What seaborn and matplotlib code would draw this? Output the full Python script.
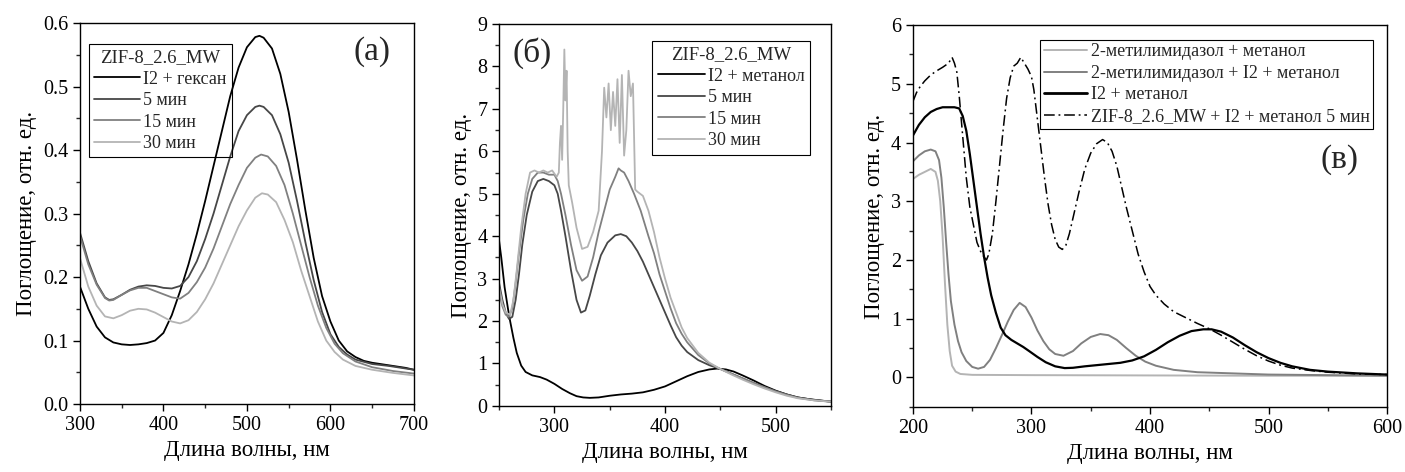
import numpy as np
import pandas as pd
import matplotlib
matplotlib.use("Agg")
import matplotlib.pyplot as plt
from matplotlib.ticker import MultipleLocator, FormatStrFormatter
import seaborn as sns

# ---------------- Panel (а) ----------------
a_title = "ZIF-8_2.6_MW"
a_labels = ["I2 + гексан", "5 мин", "15 мин", "30 мин"]
a_x0 = [300, 310, 320, 330, 340, 350, 360, 370, 380, 390, 400, 410, 420, 430, 440, 450, 460, 470, 480, 490, 500, 510, 515, 520, 530, 540, 550, 560, 570, 580, 590, 600, 610, 620, 630, 640, 650, 670, 690, 700]
a_y0 = [0.185, 0.15, 0.122, 0.105, 0.097, 0.094, 0.093, 0.094, 0.096, 0.10, 0.112, 0.14, 0.178, 0.22, 0.268, 0.32, 0.375, 0.43, 0.485, 0.53, 0.562, 0.578, 0.58, 0.577, 0.56, 0.52, 0.46, 0.385, 0.305, 0.23, 0.17, 0.13, 0.10, 0.083, 0.074, 0.068, 0.065, 0.061, 0.057, 0.054]
a_x1 = [300, 310, 320, 330, 335, 340, 350, 360, 370, 380, 390, 400, 410, 420, 430, 440, 450, 460, 470, 480, 490, 500, 510, 515, 520, 530, 540, 550, 560, 570, 580, 590, 600, 610, 620, 630, 650, 670, 700]
a_y1 = [0.27, 0.225, 0.19, 0.168, 0.164, 0.165, 0.172, 0.18, 0.185, 0.187, 0.186, 0.183, 0.182, 0.186, 0.20, 0.225, 0.26, 0.30, 0.345, 0.39, 0.43, 0.455, 0.468, 0.47, 0.468, 0.455, 0.425, 0.38, 0.32, 0.255, 0.195, 0.145, 0.11, 0.09, 0.078, 0.07, 0.063, 0.06, 0.054]
a_x2 = [300, 310, 320, 330, 335, 340, 350, 360, 370, 380, 390, 400, 410, 420, 430, 440, 450, 460, 470, 480, 490, 500, 510, 517, 525, 535, 545, 555, 565, 575, 585, 595, 605, 615, 630, 650, 675, 700]
a_y2 = [0.265, 0.22, 0.188, 0.167, 0.163, 0.164, 0.172, 0.179, 0.183, 0.183, 0.178, 0.173, 0.168, 0.166, 0.175, 0.192, 0.215, 0.245, 0.28, 0.315, 0.345, 0.372, 0.388, 0.393, 0.39, 0.375, 0.345, 0.30, 0.25, 0.20, 0.155, 0.12, 0.095, 0.08, 0.067, 0.058, 0.052, 0.048]
a_x3 = [300, 310, 320, 330, 340, 350, 360, 370, 380, 390, 400, 410, 420, 430, 440, 450, 460, 470, 480, 490, 500, 510, 518, 525, 535, 545, 555, 565, 575, 585, 595, 605, 615, 630, 650, 675, 700]
a_y3 = [0.23, 0.185, 0.155, 0.138, 0.135, 0.14, 0.147, 0.15, 0.149, 0.144, 0.137, 0.13, 0.127, 0.132, 0.145, 0.165, 0.19, 0.22, 0.25, 0.28, 0.305, 0.325, 0.332, 0.33, 0.318, 0.29, 0.255, 0.21, 0.17, 0.13, 0.10, 0.082, 0.07, 0.06, 0.054, 0.049, 0.045]

# ---------------- Panel (б) ----------------
b_title = "ZIF-8_2.6_MW"
b_labels = ["I2 + метанол", "5 мин", "15 мин", "30 мин"]
b_x0 = [250, 252, 255, 258, 260, 263, 266, 270, 274, 280, 287, 293, 300, 307, 314, 320, 326, 332, 340, 350, 360, 370, 380, 390, 400, 410, 420, 430, 440, 447, 455, 462, 470, 480, 490, 500, 510, 520, 530, 540, 550]
b_y0 = [3.9, 3.5, 2.8, 2.3, 2.0, 1.6, 1.25, 0.95, 0.8, 0.72, 0.68, 0.62, 0.52, 0.40, 0.30, 0.23, 0.20, 0.19, 0.20, 0.24, 0.27, 0.29, 0.32, 0.38, 0.46, 0.58, 0.70, 0.80, 0.86, 0.88, 0.86, 0.81, 0.72, 0.60, 0.47, 0.36, 0.27, 0.20, 0.16, 0.13, 0.10]
b_x1 = [250, 253, 256, 259, 262, 265, 268, 271, 275, 280, 285, 290, 295, 300, 303, 306, 310, 315, 320, 324, 328, 332, 337, 342, 348, 355, 360, 365, 370, 375, 380, 385, 390, 395, 400, 405, 410, 415, 420, 430, 440, 450, 460, 470, 480, 490, 500, 510, 520, 535, 550]
b_y1 = [2.9, 2.5, 2.2, 2.05, 2.1, 2.5, 3.1, 3.8, 4.5, 5.05, 5.3, 5.35, 5.3, 5.2, 5.0, 4.6, 4.0, 3.2, 2.5, 2.2, 2.25, 2.6, 3.1, 3.55, 3.85, 4.02, 4.05, 4.0, 3.85, 3.65, 3.4, 3.1, 2.8, 2.5, 2.2, 1.9, 1.62, 1.42, 1.27, 1.08, 0.96, 0.87, 0.76, 0.65, 0.54, 0.44, 0.35, 0.27, 0.20, 0.14, 0.10]
b_x2 = [250, 253, 256, 259, 262, 265, 268, 272, 276, 280, 285, 290, 295, 300, 303, 306, 310, 315, 320, 325, 330, 335, 340, 345, 350, 355, 358, 360, 363, 367, 372, 378, 385, 390, 395, 400, 405, 410, 415, 420, 430, 440, 450, 460, 470, 480, 490, 500, 510, 520, 535, 550]
b_y2 = [2.7, 2.35, 2.15, 2.1, 2.3, 2.9, 3.6, 4.4, 5.0, 5.35, 5.5, 5.5, 5.45, 5.45, 5.3, 5.0, 4.5, 3.8, 3.2, 2.95, 3.05, 3.5, 4.1, 4.6, 5.1, 5.4, 5.6, 5.55, 5.5, 5.3, 5.0, 4.6, 4.0, 3.6, 3.1, 2.7, 2.3, 1.95, 1.7, 1.5, 1.2, 1.0, 0.87, 0.76, 0.65, 0.54, 0.44, 0.34, 0.26, 0.19, 0.13, 0.10]
b_x3 = [250, 253, 256, 260, 263, 266, 270, 274, 278, 282, 286, 290, 294, 298, 302, 304, 305, 306, 307, 308, 309, 310, 311, 312, 313, 316, 320, 325, 330, 335, 340, 343, 345, 347, 349, 351, 353, 355, 357, 359, 361, 363, 365, 367, 369, 371, 373, 375, 380, 385, 390, 395, 400, 405, 410, 415, 420, 430, 440, 450, 460, 470, 480, 490, 500, 510, 520, 535, 550]
b_y3 = [2.8, 2.4, 2.2, 2.15, 2.5, 3.2, 4.2, 5.0, 5.5, 5.55, 5.5, 5.55, 5.5, 5.55, 5.4, 5.5, 6.2, 6.6, 5.8, 7.0, 8.4, 7.2, 7.9, 6.0, 5.2, 4.8, 4.2, 3.7, 3.75, 4.1, 4.6, 6.0, 7.5, 6.8, 7.6, 6.5, 7.4, 6.6, 7.7, 6.2, 7.8, 5.9, 6.5, 7.9, 7.3, 7.6, 5.1, 5.05, 4.95, 4.6, 4.1, 3.5, 3.0, 2.55, 2.2, 1.85, 1.6, 1.25, 1.02, 0.87, 0.74, 0.62, 0.51, 0.41, 0.32, 0.24, 0.18, 0.13, 0.10]

# ---------------- Panel (в) ----------------
c_labels = ["2-метилимидазол + метанол", "2-метилимидазол + I2 + метанол",
            "I2 + метанол", "ZIF-8_2.6_MW + I2 + метанол 5 мин"]
c_x0 = [200, 205, 210, 215, 219, 221, 223, 225, 227, 229, 231, 233, 236, 240, 250, 300, 400, 500, 600]
c_y0 = [3.38, 3.45, 3.5, 3.55, 3.5, 3.35, 3.0, 2.4, 1.6, 0.9, 0.45, 0.2, 0.1, 0.06, 0.045, 0.04, 0.035, 0.03, 0.03]
c_x1 = [200, 205, 210, 215, 219, 222, 224, 226, 228, 230, 232, 235, 238, 241, 245, 250, 255, 260, 265, 270, 275, 280, 285, 290, 295, 300, 305, 310, 315, 320, 327, 335, 342, 350, 358, 365, 372, 380, 388, 396, 405, 420, 440, 470, 500, 550, 600]
c_y1 = [3.68, 3.78, 3.85, 3.88, 3.85, 3.7, 3.4, 2.9, 2.3, 1.75, 1.3, 0.9, 0.62, 0.43, 0.28, 0.18, 0.15, 0.18, 0.3, 0.5, 0.72, 0.95, 1.15, 1.27, 1.2, 1.02, 0.8, 0.62, 0.48, 0.4, 0.37, 0.45, 0.58, 0.69, 0.74, 0.72, 0.64, 0.5, 0.37, 0.27, 0.2, 0.13, 0.09, 0.07, 0.05, 0.04, 0.03]
c_x2 = [200, 205, 210, 215, 220, 225, 230, 235, 239, 242, 245, 248, 251, 254, 257, 260, 263, 266, 270, 274, 278, 283, 288, 293, 298, 305, 312, 320, 328, 335, 345, 355, 365, 375, 385, 395, 405, 415, 425, 435, 445, 452, 460, 470, 480, 490, 500, 510, 520, 535, 550, 575, 600]
c_y2 = [4.12, 4.3, 4.43, 4.52, 4.57, 4.6, 4.6, 4.6, 4.58, 4.45, 4.2, 3.8, 3.35, 2.9, 2.45, 2.05, 1.7, 1.4, 1.1, 0.85, 0.72, 0.64, 0.58, 0.52, 0.45, 0.35, 0.26, 0.19, 0.16, 0.165, 0.19, 0.21, 0.23, 0.25, 0.29, 0.36, 0.47, 0.6, 0.71, 0.79, 0.82, 0.82, 0.78, 0.68, 0.55, 0.43, 0.33, 0.25, 0.19, 0.13, 0.1, 0.07, 0.05]
c_x3 = [200, 203, 206, 210, 215, 220, 225, 230, 233, 235, 237, 239, 242, 245, 248, 251, 254, 257, 260, 262, 264, 267, 270, 273, 276, 279, 282, 285, 288, 291, 294, 297, 300, 302, 305, 308, 311, 314, 317, 320, 323, 326, 329, 332, 336, 340, 345, 350, 355, 360, 364, 368, 372, 376, 380, 385, 390, 395, 400, 405, 412, 420, 430, 440, 450, 460, 470, 480, 490, 500, 510, 520, 535, 550, 575, 600]
c_y3 = [4.7, 4.85, 4.95, 5.05, 5.15, 5.22, 5.28, 5.35, 5.45, 5.35, 5.2, 4.8, 4.1, 3.4, 2.9, 2.6, 2.3, 2.15, 2.05, 2.0, 2.1, 2.45, 3.0, 3.6, 4.2, 4.75, 5.1, 5.3, 5.35, 5.45, 5.35, 5.25, 5.12, 4.9, 4.4, 3.9, 3.4, 2.95, 2.6, 2.35, 2.22, 2.18, 2.25, 2.45, 2.8, 3.15, 3.55, 3.82, 3.98, 4.05, 4.0, 3.85, 3.6, 3.25, 2.9, 2.5, 2.1, 1.8, 1.55, 1.4, 1.25, 1.12, 1.02, 0.92, 0.83, 0.72, 0.6, 0.48, 0.37, 0.28, 0.21, 0.16, 0.12, 0.09, 0.06, 0.05]

GRAYS = ["#000000", "#474747", "#808080", "#b4b4b4"]
DASHDOT = (0, (7, 2.5, 1.2, 2.5))

sns.set_theme(style="ticks")
plt.rcParams['font.family'] = ['Liberation Serif', 'DejaVu Serif']


def frame(parts):
    rows = []
    for lab, xs, ys in parts:
        rows.append(pd.DataFrame({"x": xs, "y": ys, "s": lab}))
    return pd.concat(rows, ignore_index=True)


fig = plt.figure(figsize=(14.05, 4.72), dpi=100)
axa = fig.add_axes([0.0569, 0.144, 0.2377, 0.807])
axb = fig.add_axes([0.3552, 0.140, 0.2363, 0.809])
axc = fig.add_axes([0.6498, 0.138, 0.3374, 0.809])


def style_axis(ax):
    for s in ax.spines.values():
        s.set_color("black")
        s.set_linewidth(1.0)
    ax.tick_params(axis="both", which="major", direction="out", length=5, width=1,
                   labelsize=14.5, colors="black", top=False, right=False)
    ax.tick_params(axis="both", which="minor", direction="out", length=3, width=1,
                   top=False, right=False)
    ax.set_xlabel("Длина волны, нм", fontsize=16.5, color="black")
    ax.set_ylabel("Поглощение, отн. ед.", fontsize=16.5, color="black")


# Panel a
dfa = frame(zip(a_labels, [a_x0, a_x1, a_x2, a_x3], [a_y0, a_y1, a_y2, a_y3]))
sns.lineplot(data=dfa, x="x", y="y", hue="s", palette=GRAYS, estimator=None,
             sort=False, ax=axa, linewidth=1.3)
axa.set_xlim(300, 700)
axa.set_ylim(0, 0.6)
axa.xaxis.set_major_locator(MultipleLocator(100))
axa.xaxis.set_minor_locator(MultipleLocator(50))
axa.yaxis.set_major_locator(MultipleLocator(0.1))
axa.yaxis.set_minor_locator(MultipleLocator(0.05))
axa.yaxis.set_major_formatter(FormatStrFormatter("%.1f"))
style_axis(axa)
lg = axa.legend(title=a_title, loc="upper left", fontsize=13, title_fontsize=13.5,
                frameon=True, fancybox=False, edgecolor="black",
                borderpad=0.3, labelspacing=0.25, handlelength=2.5, handletextpad=0.2,
                bbox_to_anchor=(0.0, 0.97))
lg.get_frame().set_linewidth(0.8)
lg.get_frame().set_facecolor("none")
lg.get_frame().set_alpha(None)
axa.text(0.93, 0.925, "(а)", transform=axa.transAxes, fontsize=24, ha="right", va="center")

# Panel b
dfb = frame(zip(b_labels, [b_x0, b_x1, b_x2, b_x3], [b_y0, b_y1, b_y2, b_y3]))
sns.lineplot(data=dfb, x="x", y="y", hue="s", palette=GRAYS, estimator=None,
             sort=False, ax=axb, linewidth=1.3)
axb.set_xlim(250, 550)
axb.set_ylim(0, 9)
axb.xaxis.set_major_locator(MultipleLocator(100))
axb.xaxis.set_minor_locator(MultipleLocator(50))
axb.yaxis.set_major_locator(MultipleLocator(1))
axb.yaxis.set_minor_locator(MultipleLocator(0.5))
style_axis(axb)
lg = axb.legend(title=b_title, loc="upper right", fontsize=13, title_fontsize=13.5,
                frameon=True, fancybox=False, edgecolor="black", framealpha=1.0,
                borderpad=0.3, labelspacing=0.25, handlelength=2.6, handletextpad=0.2,
                bbox_to_anchor=(0.965, 0.98))
lg.get_frame().set_linewidth(0.8)
axb.text(0.04, 0.925, "(б)", transform=axb.transAxes, fontsize=24, ha="left", va="center")

# Panel c
dfc = frame(zip(c_labels, [c_x0, c_x1, c_x2, c_x3], [c_y0, c_y1, c_y2, c_y3]))
c_pal = {c_labels[0]: "#b4b4b4", c_labels[1]: "#808080", c_labels[2]: "#000000", c_labels[3]: "#000000"}
sns.lineplot(data=dfc, x="x", y="y", hue="s", palette=c_pal, estimator=None,
             sort=False, ax=axc, linewidth=1.4)
lines = axc.get_lines()
lines[2].set_linewidth(1.6)
lines[3].set_linestyle(DASHDOT)
lines[3].set_linewidth(1.1)
axc.set_xlim(200, 600)
axc.set_ylim(-0.5, 6)
axc.xaxis.set_major_locator(MultipleLocator(100))
axc.xaxis.set_minor_locator(MultipleLocator(50))
axc.yaxis.set_minor_locator(MultipleLocator(0.5))
axc.set_yticks([0, 1, 2, 3, 4, 5, 6])
style_axis(axc)
handles, labels = axc.get_legend_handles_labels()
handles[2].set_linewidth(2.0)
handles[3].set_linestyle(DASHDOT)
handles[3].set_linewidth(1.1)
lg = axc.legend(handles, labels, loc="upper right", fontsize=13,
                frameon=True, fancybox=False, edgecolor="black", framealpha=1.0,
                borderpad=0.2, labelspacing=0.25, handlelength=2.4, handletextpad=0.2,
                bbox_to_anchor=(0.99, 0.985))
lg.get_frame().set_linewidth(0.8)
axc.text(0.90, 0.647, "(в)", transform=axc.transAxes, fontsize=24, ha="center", va="center")

fig.savefig("out.png", dpi=100)
